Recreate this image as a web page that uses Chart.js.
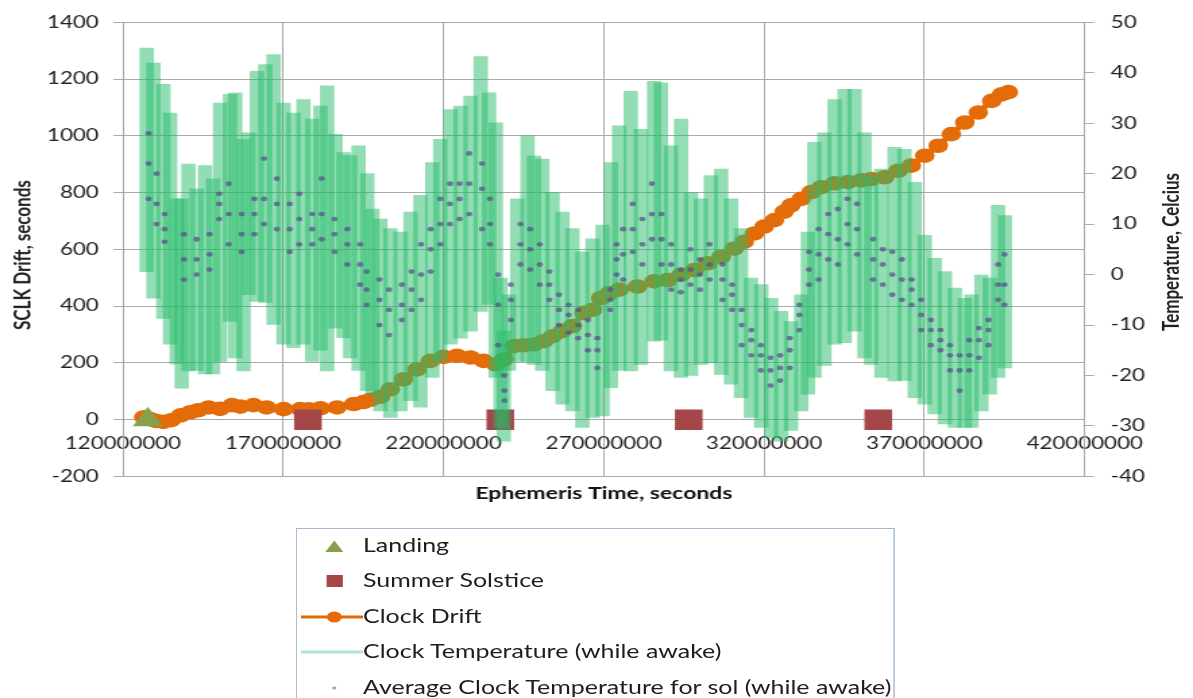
<!DOCTYPE html>
<html>
<head>
<meta charset="utf-8">
<title>SCLK Drift and Clock Temperature</title>
<script src="https://cdn.jsdelivr.net/npm/chart.js@4.4.0/dist/chart.umd.min.js"></script>
<style>
html, body { margin: 0; padding: 0; background: #fff; overflow: hidden; }
/* the reference is a horizontally stretched picture, so draw narrow and stretch */
#wrap { position: absolute; left: 0; top: 0; width: 884px; height: 698px;
        transform: scaleX(1.3496); transform-origin: 0 0;
        font-family: Lato, sans-serif; color: #1e1e1e; }
#c { position: absolute; left: 0; top: 0; }
.ytitle { position: absolute; font-weight: bold; font-size: 17px; white-space: nowrap;
          transform: translate(-50%, -50%) rotate(-90deg); }
#legend { position: absolute; left: 219px; top: 528px; width: 442px; height: 200px;
          border: 1px solid #a3b8d3; border-bottom: none; }
.row { position: absolute; left: 0; width: 440px; height: 30px; }
.row svg { position: absolute; left: 3px; top: 0; }
.row span { position: absolute; left: 49px; top: 3px; font-size: 18.5px; white-space: nowrap; }
</style>
</head>
<body>
<div id="wrap">
  <canvas id="c" width="884" height="560"></canvas>
  <div class="ytitle" style="left:15.5px; top:255px;">SCLK Drift,  seconds</div>
  <div class="ytitle" style="left:867px; top:252px;">Temperature, Celcius</div>
  <div id="legend">
    <div class="row" style="top:2px"><svg width="46" height="30"><polygon points="18,21 31.4,21 24.7,9.5" fill="#88a04a"/></svg><span>Landing</span></div>
    <div class="row" style="top:37px"><svg width="46" height="30"><rect x="19" y="9" width="12" height="12" fill="#a54748"/></svg><span>Summer Solstice</span></div>
    <div class="row" style="top:72.5px"><svg width="46" height="30"><line x1="0" y1="15" x2="46" y2="15" stroke="#e36c09" stroke-width="3"/><circle cx="24.7" cy="15" r="5.5" fill="#e36c09"/></svg><span>Clock Drift</span></div>
    <div class="row" style="top:108px"><svg width="46" height="30"><line x1="0" y1="15" x2="46" y2="15" stroke="#aee6cc" stroke-width="3"/></svg><span>Clock Temperature (while awake)</span></div>
    <div class="row" style="top:144px"><svg width="46" height="30"><circle cx="24.7" cy="15" r="1.6" fill="#a3a3bb"/></svg><span>Average Clock Temperature for sol (while awake)</span></div>
  </div>
</div>
<script>
// ephemeris times are in millions of seconds

// events
const landingMs = [127.8];
const solsticeMs = [177.7, 237.7, 296.5, 355.6];

// clock drift, seconds
const driftMs = [126.5, 128.5, 130.5, 132.6, 135, 138, 141, 143.4, 146.7, 150.3, 154, 156.6, 160.7, 164.8,
  170.1, 175.3, 178, 181.6, 186.8, 192, 195, 197.2, 200.3, 203.4, 207.5, 211.7, 215.9, 220, 224.2, 228.4,
  232.5, 236.2, 238.8, 242, 245, 248.2, 251.3, 254, 257, 260.2, 263.8, 266.5, 269, 271.7, 274.8, 280.5,
  285.7, 289.9, 294, 298.2, 302.4, 306.6, 310.7, 313.8, 317, 320, 323.2, 326.3, 328.4, 331.6, 334.7,
  337.8, 342, 346.1, 350.3, 353.4, 357.6, 361.8, 365.9, 370.1, 374.3, 378.4, 382.6, 386.8, 391, 394.1, 396.2];
const driftSec = [8, 2, -5, -8, -2, 15, 26, 33, 43, 38, 51, 46, 51, 43,
  37, 37, 36, 40, 43, 55, 62, 70, 80, 107, 142, 177, 207, 221, 225, 219,
  207, 195, 212, 259, 262, 265, 277, 294, 312, 330, 376, 387, 428, 446, 458, 469,
  487, 492, 510, 527, 551, 574, 603, 627, 656, 680, 703, 733, 755, 778, 802,
  819, 833, 837, 843, 848, 854, 877, 895, 930, 965, 1006, 1047, 1082, 1123, 1146, 1154];

// clock temperature while awake: daily low / high, Celsius
const tempMs = [127.4, 129.5, 132.6, 134.7, 136.8, 138.3, 140.4, 143.0, 145.6, 148.1, 150.3, 153.4, 155.0,
  157.6, 159.2, 161.8, 164.4, 167.0, 170.1, 173.2, 176.3, 179.0, 181.6, 183.7, 186.3, 188.8, 190.9, 193.5,
  196.2, 197.8, 200.3, 203.4, 206.6, 209.7, 212.8, 216.5, 219.0, 222.2, 225.3, 228.4, 231.6, 234.2, 236.3,
  237.8, 238.8, 240.4, 243.0, 246.2, 248.2, 250.8, 254.0, 257.1, 260.2, 263.3, 266.5, 269.6, 272.2, 274.8,
  278.4, 281.6, 285.7, 287.8, 290.9, 294.1, 297.2, 300.3, 303.4, 306.6, 309.7, 312.8, 315.9, 319.1, 322.2,
  325.3, 328.4, 331.6, 333.7, 335.7, 338.8, 342.0, 345.1, 348.2, 351.3, 353.4, 356.6, 360.7, 363.8, 367.0,
  370.1, 373.2, 376.4, 379.5, 382.6, 384.7, 387.8, 390.4, 393.0, 395.1];
const tempLo = [0.6, -4.7, -8.7, -13.8, -17.7, -22.5, -19.1, -19, -19.7, -19.7, -17.2, -9.3, -16.5,
  -19.1, -4, -5.3, -5.5, -9.9, -13.8, -14.5, -13.8, -17.2, -15, -19.1, -10.6, -12.5, -16.5, -19,
  -23, -23.7, -27, -28.3, -27, -25, -26.3, -20.4, -17.2, -13.8, -12.6, -11.2, -7.3, -5.9, -20.4,
  -30.3, -33, -19, -17.2, -17.2, -17.8, -19, -23, -25.7, -27, -30.3, -28.3, -28, -22.4, -19,
  -19.1, -17.8, -13.2, -13, -19.1, -20.4, -20, -17.8, -17.5, -19.8, -21.7, -24.4, -28.3, -30.3, -32.3,
  -33, -30.9, -27, -23.7, -20.4, -18, -13.8, -13.5, -11.2, -16.5, -17.8, -20.4, -21.1, -21, -24.4,
  -25.7, -27.6, -29.6, -30.3, -30.3, -30.3, -27, -23.7, -20.4, -18.5];
const tempHi = [44.9, 41.9, 37.7, 32, 15, 15, 21.9, 17, 21.6, 19, 34, 35.7, 36,
  26.8, 28.1, 40.3, 41.6, 43.6, 34, 32, 34.7, 30.8, 33.4, 37.4, 27.8, 24.2, 23.6, 25.5,
  20, 13, 11, 9.1, 8.4, 12.4, 15.7, 22.2, 26.8, 32.7, 33.4, 35.4, 43.2, 36, 30.1,
  -0.7, -11.2, -4, 15, 27.5, 23.5, 22.9, 16.3, 12.4, 9.1, 4.5, 7.1, 9.8, 22.2, 29.5,
  36.3, 28.8, 38.3, 38, 25.5, 30.8, 16.3, 15, 19.6, 20.9, 15, 9.1, -0.7, -2, -4.7,
  -7.3, -9.3, -4, 8.4, 26.2, 28.1, 34.7, 36.7, 36.7, 28.1, 19.6, 20.9, 25.2, 24.8, 18.3,
  7.8, 3.2, 0.6, -2.7, -4.7, -4, -0.1, -0.7, 13.7, 11.7];

// average clock temperature per sol: upper, middle and lower edge of the dot cloud
const avgMs = [128, 130.5, 133, 139, 143, 147, 150, 153, 157, 161, 164, 168, 172, 175, 179, 182, 186, 190,
  194, 196, 200, 203, 207, 210, 213, 216, 219, 222, 225, 228, 232, 234.5, 237, 239, 241, 244, 247, 250,
  253, 256, 259, 262, 265, 268, 272, 274, 276, 279, 282, 285, 288, 291, 294, 297, 300, 303, 307, 310,
  313, 316, 319, 322, 325, 328, 331, 334, 337, 340, 343, 346, 349, 354, 357, 360, 363, 366, 369, 372,
  375, 378, 381, 384, 387, 390, 393, 395];
const avgHi = [28, 20, 12, 8, 7, 8, 16, 18, 12, 15, 23, 19, 14, 16, 12, 19, 11, 9,
  6, 0.6, -1, -3, -2, 0.6, 6, 9, 15, 18, 18, 24, 22, 15, 0, -20, -2, 10, 9, 6,
  0.6, -4, -6, -7, -9, -12.6, -3, 6, 9, 14, 11, 18, 12, 6, 1, 5, 3, 6, 2, -2,
  -7, -11, -14, -16.5, -16, -12.6, -6, 4.5, 9, 12, 13, 15, 14, 7, 5, 4.5, 3, -1, -5, -9,
  -11, -14, -16, -13, -10.6, -9, 2, 4];
const avgMid = [22, 14, 9, 3, 3, 4, 14, 12, 8, 12, 15, 14, 9, 11, 9, 12, 8, 6,
  2, -3, -5, -7, -6, -3, 0, 5, 10, 14, 15, 18, 17, 10, -6, -23, -5, 6, 5, 2,
  -2, -7, -8, -10, -12, -15, -5, 3, 4, 9, 6, 12, 7, 2, -1, 1, 0, 2, -1, -4,
  -10, -13, -16, -19, -18.5, -15, -8, 1, 4, 8, 7, 10, 9, 3, 2, 0, -1, -3, -8, -11,
  -13, -16, -19, -16, -13, -11, -2, -2];
const avgLo = [15, 10, 6.5, -1, 0, 1, 11, 6, 4.5, 8, 10, 9, 4.5, 6, 6, 7, 4.5, 2,
  -2, -6, -10, -12, -9, -7, -5, 0.6, 6, 10, 11, 12, 9, 6, -14, -25, -9, 2, 1, -2,
  -5, -10, -11.5, -12.6, -15, -18.5, -7, 0, -1, 4.5, 2, 7, 2, -3, -3.5, -2, -3, -1, -5, -7,
  -14, -16, -19, -22, -21, -18.5, -11, -2, -1, 3, 2, 6, 4, -1, -2, -4, -5, -6, -11, -14,
  -15, -19, -23, -19, -16.5, -14, -5, -6];

const M = 1e6;
const pts = (xs, ys) => xs.map((x, i) => ({ x: x * M, y: ys[i] }));

const avgPoints = pts(avgMs, avgHi).concat(pts(avgMs, avgMid), pts(avgMs, avgLo));
const bandBars = tempMs.map((x, i) => ({ x: x * M, y: [tempLo[i], tempHi[i]] }));

const gridColor = '#a9a9a9';
const tickFont = { family: 'Lato', size: 16.5 };
const tickColor = '#222';
const plain = v => String(v);

new Chart(document.getElementById('c'), {
  type: 'scatter',
  data: {
    datasets: [
      {
        label: 'Average Clock Temperature for sol (while awake)',
        type: 'scatter', data: avgPoints, yAxisID: 'yT', order: 1,
        pointRadius: 2.4, borderWidth: 0, backgroundColor: 'rgba(88,76,140,0.7)'
      },
      {
        label: 'Clock Temperature (while awake)',
        type: 'bar', data: bandBars, yAxisID: 'yT', order: 2,
        barThickness: 10, borderWidth: 0, backgroundColor: 'rgba(38,187,105,0.5)'
      },
      {
        label: 'Summer Solstice',
        type: 'scatter', data: pts(solsticeMs, solsticeMs.map(() => 0)), yAxisID: 'yD', order: 3,
        pointStyle: 'rect', pointRadius: 14.5, borderWidth: 0, backgroundColor: '#a54748'
      },
      {
        label: 'Landing',
        type: 'scatter', data: pts(landingMs, [0]), yAxisID: 'yD', order: 4,
        pointStyle: 'triangle', pointRadius: 13, borderWidth: 0, backgroundColor: '#88a04a'
      },
      {
        label: 'Clock Drift',
        type: 'line', data: pts(driftMs, driftSec), yAxisID: 'yD', order: 5,
        showLine: true, tension: 0, borderColor: '#e36c09', borderWidth: 5,
        pointRadius: 7.3, pointBorderWidth: 0, pointBackgroundColor: '#e36c09'
      }
    ]
  },
  options: {
    responsive: false,
    animation: false,
    events: [],
    // the x axis sits on the zero line and takes no layout room, so reserve its title space here
    layout: { padding: { top: 19.3, left: 0, right: 0, bottom: 83.6 } },
    plugins: { legend: { display: false }, tooltip: { enabled: false } },
    scales: {
      x: {
        type: 'linear',
        position: { yD: 0 },
        offset: false,
        min: 120 * M, max: 420 * M,
        ticks: { stepSize: 50 * M, autoSkip: false, maxRotation: 0, padding: 14.5,
                 font: tickFont, color: tickColor, callback: plain },
        grid: { color: gridColor, drawTicks: false, offset: false },
        border: { color: gridColor },
        title: { display: true, text: 'Ephemeris Time, seconds', color: '#111',
                 font: { family: 'Lato', size: 17, weight: 'bold' }, padding: { top: 0, bottom: 0 } },
        afterFit: s => { s.height = 83.6; }
      },
      yD: {
        type: 'linear', position: 'left',
        min: -200, max: 1400,
        ticks: { stepSize: 200, padding: 11, font: tickFont, color: tickColor, callback: plain },
        grid: { color: gridColor, tickLength: 7 },
        border: { color: gridColor },
        afterFit: s => { s.width = 91.1; }
      },
      yT: {
        type: 'linear', position: 'right',
        min: -40, max: 50,
        ticks: { stepSize: 10, padding: 12.4, font: tickFont, color: tickColor, callback: plain },
        grid: { drawOnChartArea: false, color: gridColor, tickLength: 7 },
        border: { color: gridColor },
        afterFit: s => { s.width = 80.3; }
      }
    }
  }
});
</script>
</body>
</html>
